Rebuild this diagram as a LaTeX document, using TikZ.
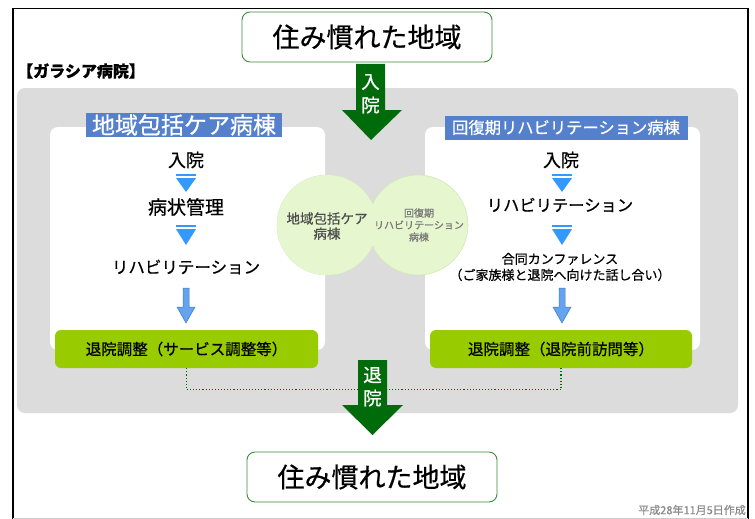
\documentclass[tikz,border=0pt]{standalone}
\usepackage{fontspec}
\setmainfont{Noto Sans CJK JP}[FakeBold=0.6]
\usetikzlibrary{positioning}
\definecolor{dkgreen}{HTML}{006B0A}
\definecolor{lgreen}{HTML}{99CC00}
\definecolor{bluelab}{HTML}{5580CC}
\definecolor{tri}{HTML}{3399FF}
\definecolor{arrfill}{HTML}{66A3EE}
\definecolor{arrline}{HTML}{3A78D0}
\definecolor{grayarea}{HTML}{DCDCDC}
\definecolor{circfill}{HTML}{E6F6CF}
\definecolor{circline}{HTML}{D2E9BA}
\definecolor{boxline}{HTML}{3C8C3C}
\definecolor{notegray}{HTML}{8A8A8A}
\definecolor{circtext}{HTML}{555555}
\tikzset{
  placebox/.style={draw=boxline, line width=0.9pt, fill=white, rounded corners=8pt,
    minimum width=250pt, minimum height=50pt, inner sep=0pt, font=\fontsize{27}{30}\selectfont},
  wardlabel/.style={fill=bluelab, text=white, inner sep=0pt, minimum height=24pt},
  steptext/.style={inner sep=1pt},
  greenbox/.style={fill=lgreen, rounded corners=6pt, minimum height=38pt, inner sep=0pt,
    font=\fontsize{15.5}{18}\selectfont},
  bigarrow/.style={fill=dkgreen},
  arrowtext/.style={text=white, font=\fontsize{18.5}{20}\selectfont, inner sep=0pt},
  tribar/.style={fill=tri},
  bluearrow/.style={fill=arrfill, draw=arrline, line width=0.5pt, line join=miter},
  circ/.style={circle, fill=circfill, draw=circline, line width=0.6pt, minimum size=100pt, inner sep=0pt},
  linkline/.style={dkgreen, dotted, line width=1.1pt}
}
\begin{document}
\begin{tikzpicture}[x=1pt,y=-1pt]
\useasboundingbox (0,0) rectangle (755,519);
\fill[white] (0,0) rectangle (755,519);
% frame
\draw[black, line width=1.6pt] (13,519) -- (13,8);
\draw[black, line width=0.8pt] (13,8) -- (748,8);
\draw[black, line width=1.4pt] (748,8) -- (748,519);
\draw[gray!40, line width=0.8pt] (13,518.5) -- (748,518.5);

% hospital label
\node[anchor=west, inner sep=0pt, font=\fontsize{16}{18}\selectfont\bfseries] (hosp) at (17,71) {【ガラシア病院】};

% gray area
\fill[grayarea, rounded corners=8pt] (17,88) rectangle (738,413);

% white panels
\fill[white, rounded corners=8pt] (50,127) rectangle (325,350);
\fill[white, rounded corners=8pt] (425,127) rectangle (700,350);

% panel labels
\node[wardlabel, minimum width=196pt, font=\fontsize{23}{25}\selectfont] (labL) at (184,125) {地域包括ケア病棟};
\node[wardlabel, minimum width=243pt, font=\fontsize{16.3}{18}\selectfont] (labR) at (566,127.5) {回復期リハビリテーション病棟};

% top / bottom boxes
\node[placebox] (top) at (367,37) {住み慣れた地域};
\node[placebox] (bot) at (372,477) {住み慣れた地域};

% big arrows
\fill[bigarrow] (356,64) -- (385,64) -- (385,110) -- (402,110) -- (371,140) -- (342,110) -- (356,110) -- cycle;
\node[arrowtext] (inA1) at (370.5,82) {入};
\node[arrowtext] (inA2) at (370.5,105) {院};
\fill[bigarrow] (358,360) -- (387,360) -- (387,405) -- (403,405) -- (372.5,435) -- (342,405) -- (358,405) -- cycle;
\node[arrowtext] (outA1) at (372.5,375) {退};
\node[arrowtext] (outA2) at (372.5,398) {院};
\coordinate (outL) at (358,389.5);
\coordinate (outR) at (387,389.5);

% left steps
\node[steptext, font=\fontsize{18}{20}\selectfont] (l1) at (186,160) {入院};
\node[steptext, font=\fontsize{19}{21}\selectfont] (l2) at (186,207) {病状管理};
\node[steptext, font=\fontsize{16.5}{19}\selectfont] (l3) at (186,267) {リハビリテーション};
\fill[tribar] (176,173.5) rectangle (196,176);
\fill[tri] (176,178) -- (196,178) -- (186,192) -- cycle;
\fill[tribar] (176,224.5) rectangle (196,227);
\fill[tri] (176,229) -- (196,229) -- (186,245) -- cycle;
\draw[bluearrow] (183,288) -- (189,288) -- (189,307) -- (195,307) -- (186,323) -- (177,307) -- (183,307) -- cycle;

% right steps
\node[steptext, font=\fontsize{18}{20}\selectfont] (r1) at (561,160) {入院};
\node[steptext, font=\fontsize{16.3}{19}\selectfont] (r2) at (560,205) {リハビリテーション};
\node[steptext, font=\fontsize{13}{15}\selectfont, align=center] (r3) at (560,267) {合同カンファレンス\\[1pt]（ご家族様と退院へ向けた話し合い）};
\fill[tribar] (552,173.5) rectangle (572,176);
\fill[tri] (552,178) -- (572,178) -- (562,192) -- cycle;
\fill[tribar] (552,224.5) rectangle (572,227);
\fill[tri] (552,229) -- (572,229) -- (562,245) -- cycle;
\draw[bluearrow] (559,288) -- (565,288) -- (565,307) -- (571,307) -- (562,323) -- (553,307) -- (559,307) -- cycle;

% green boxes
\node[greenbox, minimum width=263pt] (gL) at (186.5,349) {退院調整（サービス調整等）};
\node[greenbox, minimum width=262pt] (gR) at (561,349) {退院調整（退院前訪問等）};

% dotted links
\draw[linkline] (gL.south) |- (outL);
\draw[linkline] (gR.south) |- (outR);

% circles
\node[circ] (cL) at (327,225) {};
\node[circ] (cR) at (418,225) {};
\node[circ, draw=none, fill=circfill] (cL2) at (327,225) {};
\node[font=\fontsize{13.5}{15}\selectfont, text=circtext!90!black, align=center, inner sep=0pt] (cLt) at (327,226) {地域包括ケア\\病棟};
\node[font=\fontsize{10}{12}\selectfont, text=circtext!80, align=center, inner sep=0pt] (cRt) at (419,225) {回復期\\リハビリテーション\\病棟};

% note
\node[anchor=east, inner sep=0pt, text=notegray, font=\fontsize{11}{12}\selectfont] (note) at (746,510) {平成28年11月5日作成};
\end{tikzpicture}
\end{document}
